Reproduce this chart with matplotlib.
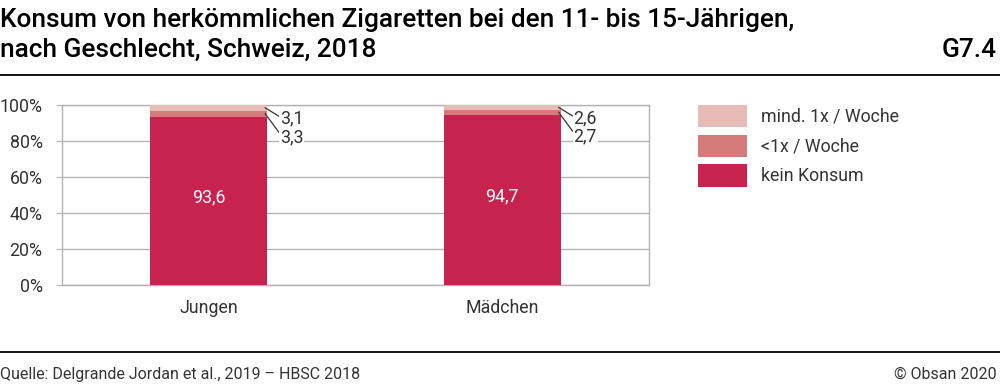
import matplotlib
matplotlib.use("Agg")
import matplotlib.pyplot as plt
from matplotlib.lines import Line2D
from matplotlib.patches import Patch

plt.rcParams['font.family'] = ['Roboto', 'DejaVu Sans']

categories = ["Jungen", "Mädchen"]
series_names = ["kein Konsum", "<1x / Woche", "mind. 1x / Woche"]
kein = [93.6, 94.7]
selten = [3.3, 2.7]
woechentlich = [3.1, 2.6]
colors = ["#C8224E", "#D57B7A", "#E8BCB6"]
yticks = [0, 20, 40, 60, 80, 100]

W, H = 1000, 386
fig = plt.figure(figsize=(W / 100, H / 100), dpi=100)
ax = fig.add_axes([62 / W, (H - 285) / H, 587 / W, 180 / H])

x = list(range(len(categories)))
bw = 0.40
series = [kein, selten, woechentlich]
bottoms = [0.0] * len(categories)
for vals, col in zip(series, colors):
    ax.bar(x, vals, bw, bottom=bottoms, color=col, zorder=3, linewidth=0)
    bottoms = [b + v for b, v in zip(bottoms, vals)]

LW = 'normal'
TC = '#333333'
FS = 12.8
ax.set_xlim(-0.5, 1.5)
ax.set_ylim(0, 100)
ax.set_yticks(yticks)
ax.set_yticklabels([f"{t}%" for t in yticks], fontweight=LW)
ax.set_xticks(x)
ax.set_xticklabels(categories, fontweight=LW)
ax.grid(axis='y', color='#b3b3b3', linewidth=1, zorder=0)
for s in ax.spines.values():
    s.set_color('#b3b3b3')
    s.set_linewidth(1)
ax.tick_params(axis='y', length=4, color='#b3b3b3', labelsize=FS, labelcolor=TC, pad=10)
ax.tick_params(axis='x', length=0, labelsize=FS, labelcolor=TC, pad=10)

def fmt(v):
    return f"{v:.1f}".replace('.', ',')

for i in x:
    ax.text(i, kein[i] / 2 + 2, fmt(kein[i]), color='white', ha='center', va='center',
            fontsize=FS, fontweight=LW, zorder=5)
    xr = i + bw / 2 - 0.008
    y_w = kein[i] + selten[i] + woechentlich[i] / 2
    y_s = kein[i] + selten[i] / 2
    ax.annotate(fmt(woechentlich[i]), xy=(xr, y_w), xytext=(15, -11), textcoords='offset pixels',
                ha='left', va='center', fontsize=FS, fontweight=LW, color=TC, zorder=6,
                bbox=dict(boxstyle='square,pad=0.05', fc='white', ec='none'),
                arrowprops=dict(arrowstyle='-', color='#333333', lw=0.9, shrinkA=0, shrinkB=0,
                                relpos=(0, 0.6)), annotation_clip=False)
    ax.annotate(fmt(selten[i]), xy=(xr, y_s), xytext=(15, -24), textcoords='offset pixels',
                ha='left', va='center', fontsize=FS, fontweight=LW, color=TC, zorder=6,
                bbox=dict(boxstyle='square,pad=0.05', fc='white', ec='none'),
                arrowprops=dict(arrowstyle='-', color='#333333', lw=0.9, shrinkA=0, shrinkB=0,
                                relpos=(0, 0.7)), annotation_clip=False)

handles = [Patch(facecolor=colors[2]), Patch(facecolor=colors[1]), Patch(facecolor=colors[0])]
labels = [series_names[2], series_names[1], series_names[0]]
leg = fig.legend(handles, labels, loc='upper left', bbox_to_anchor=(698 / W, 1 - 105 / H),
                 frameon=False, handlelength=2.75, handleheight=1.55,
                 handletextpad=0.8, labelspacing=0.42, labelcolor=TC, borderpad=0,
                 borderaxespad=0, prop={'weight': LW, 'size': FS})

fig.text(0, 1 - 20 / H, "Konsum von herkömmlichen Zigaretten bei den 11- bis 15-Jährigen,",
         fontsize=18.9, fontweight='medium', color='black', va='center', ha='left')
fig.text(0, 1 - 50 / H, "nach Geschlecht, Schweiz, 2018",
         fontsize=18.9, fontweight='medium', color='black', va='center', ha='left')
fig.text(1 - 3 / W, 1 - 50 / H, "G7.4",
         fontsize=18.9, fontweight='medium', color='black', va='center', ha='right')
fig.add_artist(Line2D([0, 1], [1 - 75 / H, 1 - 75 / H], color='black', lw=1.3,
                      transform=fig.transFigure))
fig.add_artist(Line2D([0, 1], [1 - 352 / H, 1 - 352 / H], color='black', lw=1.3,
                      transform=fig.transFigure))
fig.text(0, 1 - 374 / H, "Quelle: Delgrande Jordan et al., 2019 – HBSC 2018",
         fontsize=11.5, fontweight=LW, color=TC, va='center', ha='left')
fig.text(1 - 3 / W, 1 - 374 / H, "© Obsan 2020",
         fontsize=11.5, fontweight=LW, color=TC, va='center', ha='right')

fig.savefig("out.png", dpi=100)
